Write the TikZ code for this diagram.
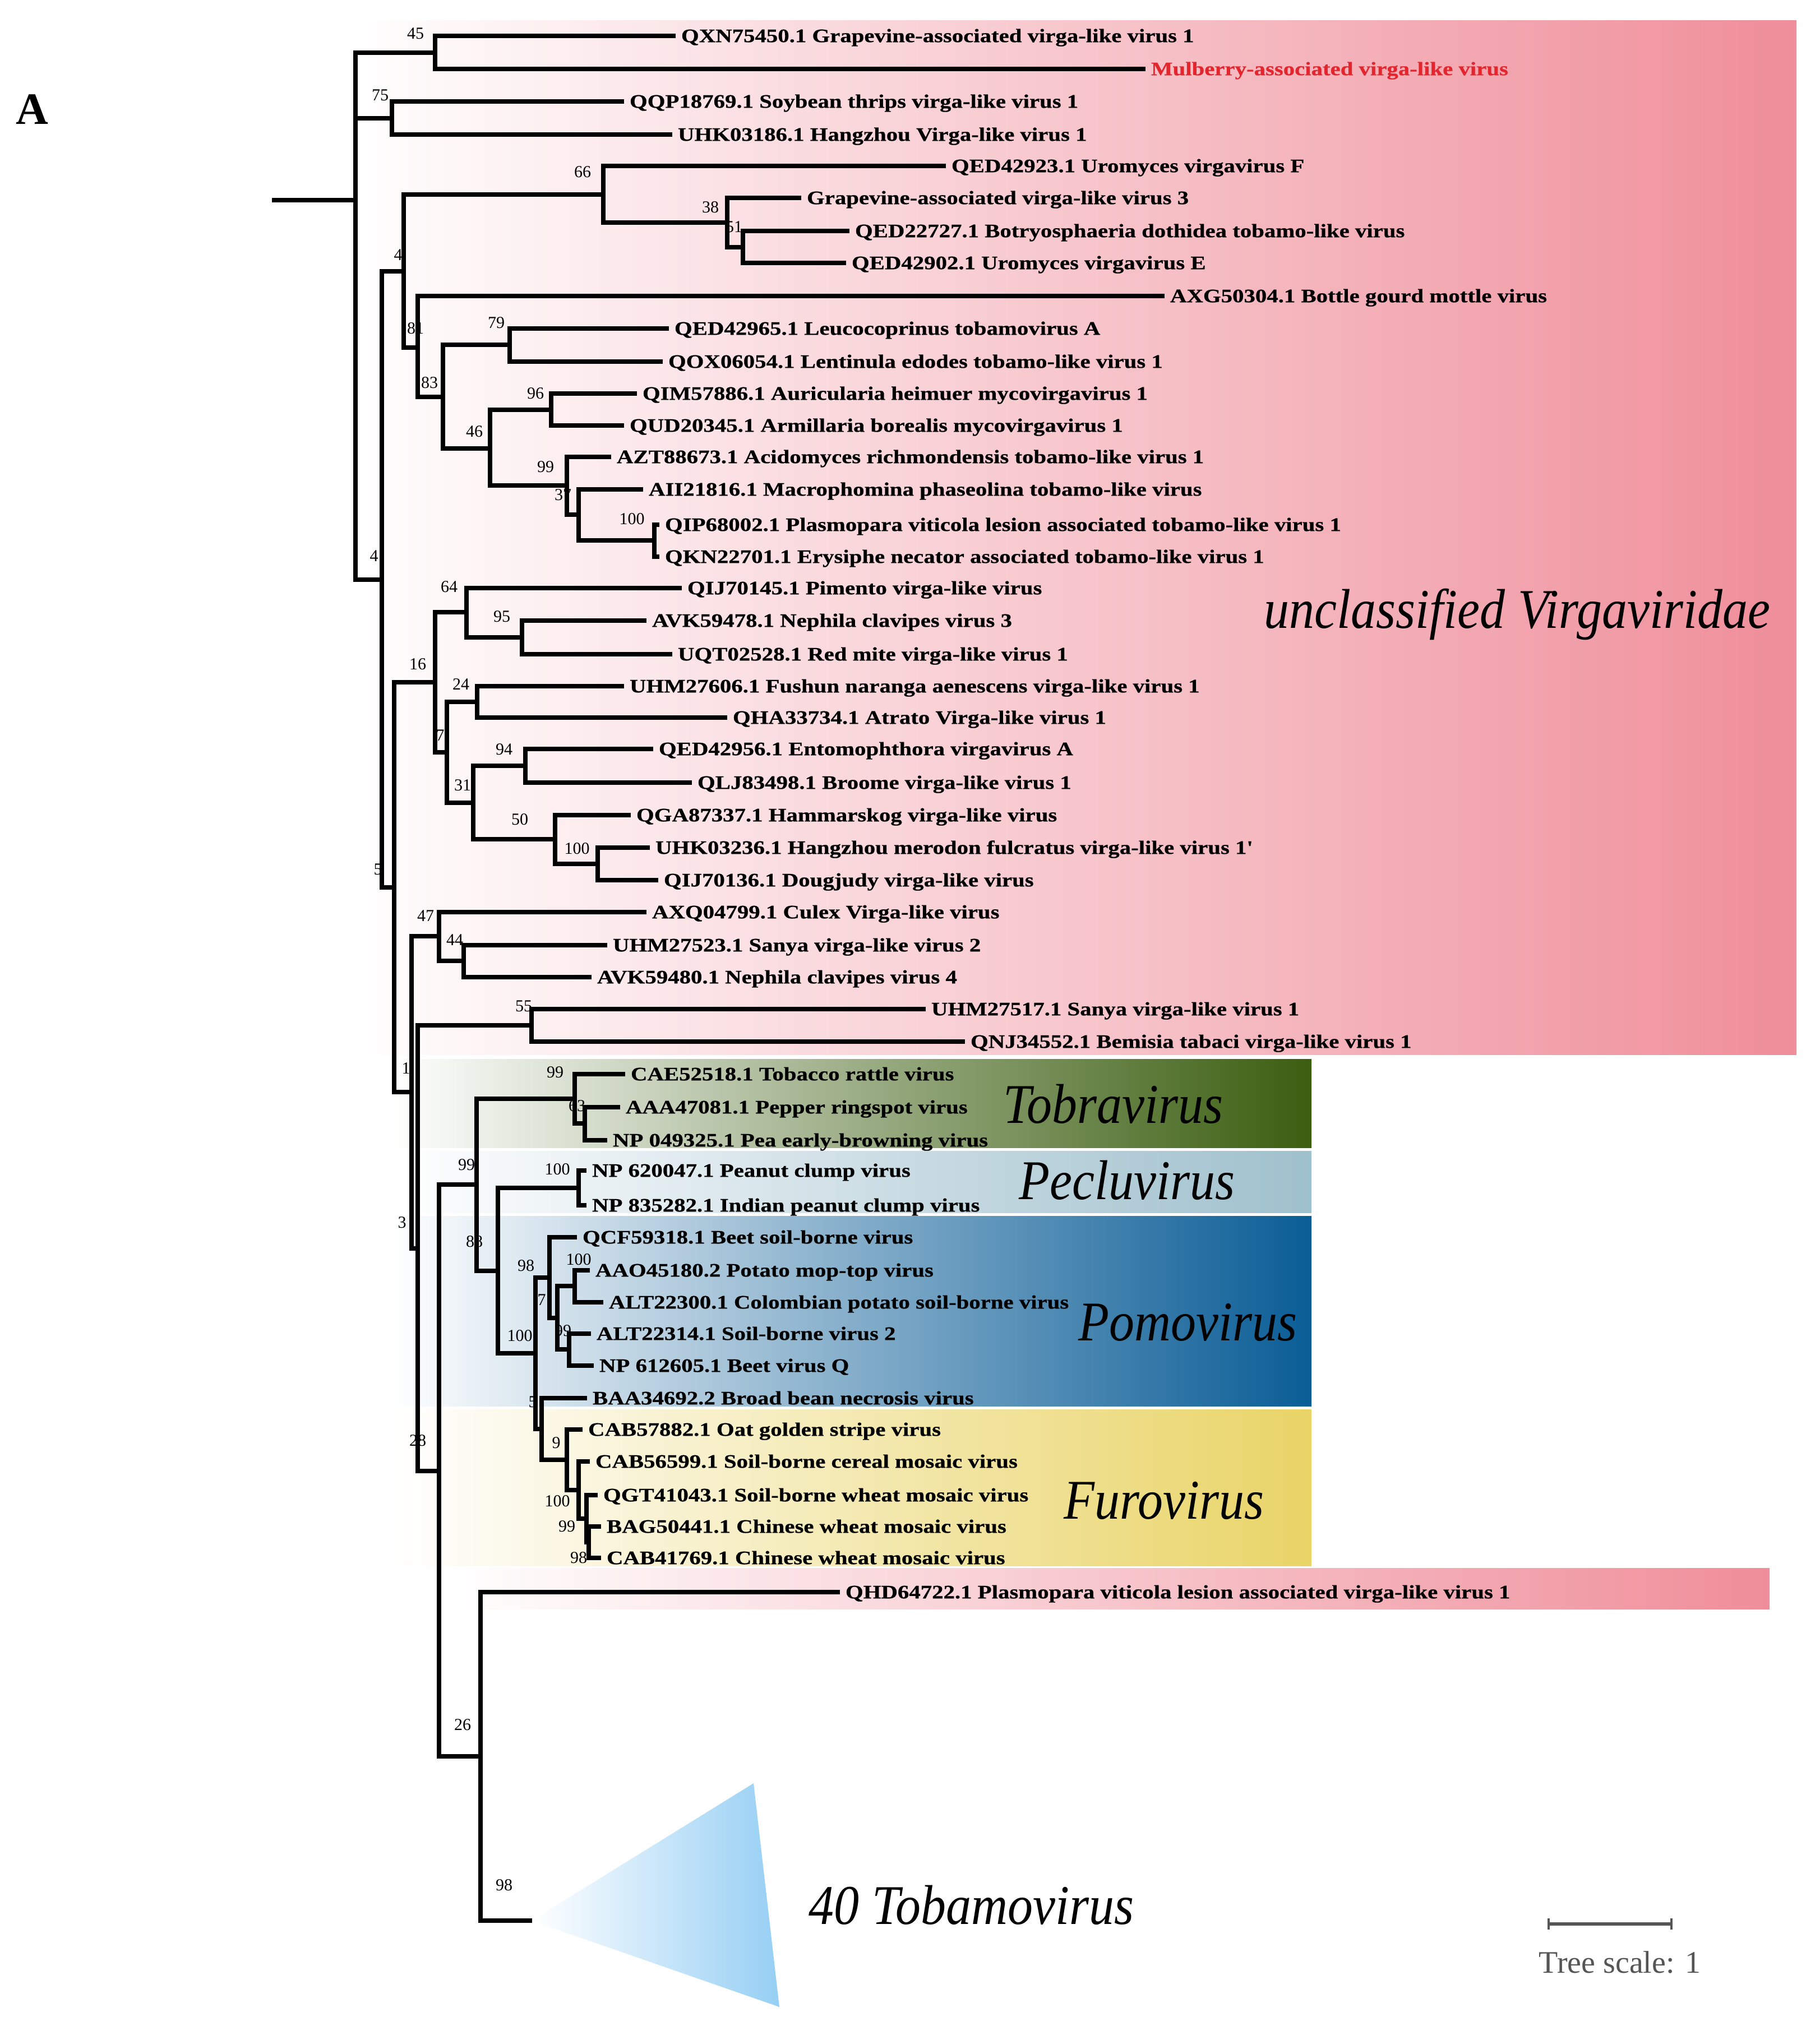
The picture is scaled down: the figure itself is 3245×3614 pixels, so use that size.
\documentclass[tikz,border=0pt]{standalone}
\usepackage{fontspec}
\setmainfont{Liberation Serif}
\newfontfamily\labfont[FakeStretch=1.2,FakeBold=0.6]{Liberation Serif}
\newfontfamily\cladefont[FakeStretch=0.9]{Liberation Serif}
\definecolor{pinkR}{HTML}{EF8E9A}
\definecolor{tobG}{HTML}{3B5E10}
\definecolor{pecB}{HTML}{9FC0CD}
\definecolor{pomB}{HTML}{0A5D96}
\definecolor{furY}{HTML}{E9D467}
\definecolor{triB}{HTML}{96CFF4}
\definecolor{mulR}{HTML}{E3262D}
\definecolor{scaleG}{HTML}{555555}
\tikzset{
  br/.style={line width=1.8pt, line cap=rect, line join=miter, black},
  leaf/.style={anchor=west, inner xsep=3.5pt, inner ysep=0pt, outer sep=0pt,
    font=\labfont\bfseries\fontsize{8.5}{10}\selectfont, text height=5.6pt, text depth=0pt},
  sv/.style={inner sep=0pt, font=\fontsize{7.5}{9}\selectfont},
  clade/.style={anchor=base west, inner sep=0pt, font=\cladefont\itshape\fontsize{25}{30}\selectfont},
}
\begin{document}
\begin{tikzpicture}[x=0.25pt,y=-0.25pt]
\useasboundingbox (0,0) rectangle (3245,3614);
% ---------- background clade shadings ----------
\shade[left color=white, right color=pinkR] (620,37) rectangle (3204,1881);
\shade[left color=white, right color=tobG] (700,1889) rectangle (2339,2047);
\shade[left color=white, right color=pecB] (700,2053) rectangle (2339,2163);
\shade[left color=white, right color=pomB] (700,2169) rectangle (2339,2508);
\shade[left color=white, right color=furY] (700,2514) rectangle (2339,2793);
\shade[left color=white, right color=pinkR] (800,2797) rectangle (3156,2870);
\shade[left color=white, right color=triB] (948,3426) -- (1344,3181) -- (1390,3580) -- cycle;
% ---------- internal nodes ----------
\coordinate (R0) at (489,357);
\coordinate (R) at (634,357);
\coordinate (N45) at (776,94);
\coordinate (N75) at (699,211);
\coordinate (C1) at (681,1034);
\coordinate (C2) at (720,484);
\coordinate (N66) at (1076,347);
\coordinate (N38) at (1297,397);
\coordinate (N51) at (1325,441);
\coordinate (N81) at (745,620);
\coordinate (N83) at (790,708);
\coordinate (N79) at (909,615);
\coordinate (N46) at (874,800);
\coordinate (N96) at (983,731);
\coordinate (N99a) at (1011,866);
\coordinate (N37) at (1032,918);
\coordinate (N100a) at (1167,964);
\coordinate (C3) at (703,1583);
\coordinate (N16) at (776,1217);
\coordinate (N64) at (832,1092);
\coordinate (N95) at (931,1137);
\coordinate (N7a) at (797,1342);
\coordinate (N24) at (851,1252);
\coordinate (N31) at (844,1432);
\coordinate (N94) at (937,1366);
\coordinate (N50) at (990,1497);
\coordinate (N100b) at (1066,1541);
\coordinate (N1) at (734,1948);
\coordinate (N47) at (783,1670);
\coordinate (N44) at (827,1714);
\coordinate (N3) at (745,2227);
\coordinate (N55) at (948,1829);
\coordinate (N28) at (783,2624);
\coordinate (N99b) at (850,2113);
\coordinate (Ntob) at (1025,1960);
\coordinate (N63) at (1043,2004);
\coordinate (N88) at (888,2267);
\coordinate (Npec) at (1032,2119);
\coordinate (N100c) at (955,2414);
\coordinate (N98a) at (980,2279);
\coordinate (N7b) at (994,2351);
\coordinate (N100d) at (1025,2294);
\coordinate (N99c) at (1015,2407);
\coordinate (N5) at (966,2549);
\coordinate (N9) at (1011,2604);
\coordinate (N100e) at (1032,2658);
\coordinate (N99d) at (1046,2709);
\coordinate (N98b) at (1050,2751);
\coordinate (N26) at (857,3133);
\coordinate (Ntri) at (945,3426);
% ---------- leaves ----------
\node[leaf] (L1) at (1201,64) {QXN75450.1 Grapevine-associated virga-like virus 1};
\node[leaf, text=mulR] (L2) at (2039,123) {Mulberry-associated virga-like virus};
\node[leaf] (L3) at (1109,181) {QQP18769.1 Soybean thrips virga-like virus 1};
\node[leaf] (L4) at (1195,240) {UHK03186.1 Hangzhou Virga-like virus 1};
\node[leaf] (L5) at (1683,296) {QED42923.1 Uromyces virgavirus F};
\node[leaf] (L6) at (1425,353) {Grapevine-associated virga-like virus 3};
\node[leaf] (L7) at (1511,412) {QED22727.1 Botryosphaeria dothidea tobamo-like virus};
\node[leaf] (L8) at (1505,469) {QED42902.1 Uromyces virgavirus E};
\node[leaf] (L9) at (2073,528) {AXG50304.1 Bottle gourd mottle virus};
\node[leaf] (L10) at (1189,586) {QED42965.1 Leucocoprinus tobamovirus A};
\node[leaf] (L11) at (1178,645) {QOX06054.1 Lentinula edodes tobamo-like virus 1};
\node[leaf] (L12) at (1132,702) {QIM57886.1 Auricularia heimuer mycovirgavirus 1};
\node[leaf] (L13) at (1109,759) {QUD20345.1 Armillaria borealis mycovirgavirus 1};
\node[leaf] (L14) at (1086,815) {AZT88673.1 Acidomyces richmondensis tobamo-like virus 1};
\node[leaf] (L15) at (1143,873) {AII21816.1 Macrophomina phaseolina tobamo-like virus};
\node[leaf] (L16) at (1172,936) {QIP68002.1 Plasmopara viticola lesion associated tobamo-like virus 1};
\node[leaf] (L17) at (1172,993) {QKN22701.1 Erysiphe necator associated tobamo-like virus 1};
\node[leaf] (L18) at (1212,1049) {QIJ70145.1 Pimento virga-like virus};
\node[leaf] (L19) at (1149,1107) {AVK59478.1 Nephila clavipes virus 3};
\node[leaf] (L20) at (1195,1167) {UQT02528.1 Red mite virga-like virus 1};
\node[leaf] (L21) at (1109,1224) {UHM27606.1 Fushun naranga aenescens virga-like virus 1};
\node[leaf] (L22) at (1293,1280) {QHA33734.1 Atrato Virga-like virus 1};
\node[leaf] (L23) at (1161,1336) {QED42956.1 Entomophthora virgavirus A};
\node[leaf] (L24) at (1230,1396) {QLJ83498.1 Broome virga-like virus 1};
\node[leaf] (L25) at (1121,1454) {QGA87337.1 Hammarskog virga-like virus};
\node[leaf] (L26) at (1155,1512) {UHK03236.1 Hangzhou merodon fulcratus virga-like virus 1'};
\node[leaf] (L27) at (1170,1570) {QIJ70136.1 Dougjudy virga-like virus};
\node[leaf] (L28) at (1149,1627) {AXQ04799.1 Culex Virga-like virus};
\node[leaf] (L29) at (1079,1686) {UHM27523.1 Sanya virga-like virus 2};
\node[leaf] (L30) at (1051,1743) {AVK59480.1 Nephila clavipes virus 4};
\node[leaf] (L31) at (1647,1800) {UHM27517.1 Sanya virga-like virus 1};
\node[leaf] (L32) at (1717,1858) {QNJ34552.1 Bemisia tabaci virga-like virus 1};
\node[leaf] (L33) at (1111,1916) {CAE52518.1 Tobacco rattle virus};
\node[leaf] (L34) at (1102,1975) {AAA47081.1 Pepper ringspot virus};
\node[leaf] (L35) at (1079,2034) {NP 049325.1 Pea early-browning virus};
\node[leaf] (L36) at (1042,2088) {NP 620047.1 Peanut clump virus};
\node[leaf] (L37) at (1042,2150) {NP 835282.1 Indian peanut clump virus};
\node[leaf] (L38) at (1025,2207) {QCF59318.1 Beet soil-borne virus};
\node[leaf] (L39) at (1048,2266) {AAO45180.2 Potato mop-top virus};
\node[leaf] (L40) at (1072,2323) {ALT22300.1 Colombian potato soil-borne virus};
\node[leaf] (L41) at (1050,2379) {ALT22314.1 Soil-borne virus 2};
\node[leaf] (L42) at (1055,2436) {NP 612605.1 Beet virus Q};
\node[leaf] (L43) at (1043,2494) {BAA34692.2 Broad bean necrosis virus};
\node[leaf] (L44) at (1035,2550) {CAB57882.1 Oat golden stripe virus};
\node[leaf] (L45) at (1048,2607) {CAB56599.1 Soil-borne cereal mosaic virus};
\node[leaf] (L46) at (1062,2667) {QGT41043.1 Soil-borne wheat mosaic virus};
\node[leaf] (L47) at (1068,2723) {BAG50441.1 Chinese wheat mosaic virus};
\node[leaf] (L48) at (1068,2779) {CAB41769.1 Chinese wheat mosaic virus};
\node[leaf] (L49) at (1494,2840) {QHD64722.1 Plasmopara viticola lesion associated virga-like virus 1};
% ---------- branches ----------
\draw[br] (R0) -- (R);
\foreach \p/\c in {R/N45,R/N75,R/C1,N45/L1,N45/L2,N75/L3,N75/L4,C1/C2,C1/C3,
  C2/N66,C2/N81,N66/L5,N66/N38,N38/L6,N38/N51,N51/L7,N51/L8,N81/L9,N81/N83,
  N83/N79,N83/N46,N79/L10,N79/L11,N46/N96,N46/N99a,N96/L12,N96/L13,N99a/L14,N99a/N37,
  N37/L15,N37/N100a,N100a/L16,N100a/L17,C3/N16,C3/N1,N16/N64,N16/N7a,N64/L18,N64/N95,
  N95/L19,N95/L20,N7a/N24,N7a/N31,N24/L21,N24/L22,N31/N94,N31/N50,N94/L23,N94/L24,
  N50/L25,N50/N100b,N100b/L26,N100b/L27,N1/N47,N1/N3,N47/L28,N47/N44,N44/L29,N44/L30,
  N3/N55,N3/N28,N55/L31,N55/L32,N28/N99b,N28/N26,N99b/Ntob,N99b/N88,Ntob/L33,Ntob/N63,
  N63/L34,N63/L35,N88/Npec,N88/N100c,Npec/L36,Npec/L37,N100c/N98a,N100c/N5,N98a/L38,N98a/N7b,
  N7b/N100d,N7b/N99c,N100d/L39,N100d/L40,N99c/L41,N99c/L42,N5/L43,N5/N9,N9/L44,N9/N100e,
  N100e/L45,N100e/N99d,N99d/L46,N99d/N98b,N98b/L47,N98b/L48,N26/L49,N26/Ntri}
  {\draw[br] (\p) |- (\c);}
% ---------- support values ----------
\node[sv] (s1) at (741,60) {45};
\node[sv] (s2) at (678,170) {75};
\node[sv] (s3) at (1039,307) {66};
\node[sv] (s4) at (1267,370) {38};
\node[sv] (s5) at (1309,405) {51};
\node[sv] (s6) at (710,455) {4};
\node[sv] (s7) at (741,586) {81};
\node[sv] (s8) at (766,683) {83};
\node[sv] (s9) at (885,576) {79};
\node[sv] (s10) at (955,702) {96};
\node[sv] (s11) at (846,770) {46};
\node[sv] (s12) at (973,833) {99};
\node[sv] (s13) at (1004,883) {37};
\node[sv] (s14) at (1127,926) {100};
\node[sv] (s15) at (667,992) {4};
\node[sv] (s16) at (801,1047) {64};
\node[sv] (s17) at (895,1100) {95};
\node[sv] (s18) at (745,1185) {16};
\node[sv] (s19) at (822,1221) {24};
\node[sv] (s20) at (785,1312) {7};
\node[sv] (s21) at (899,1337) {94};
\node[sv] (s22) at (825,1401) {31};
\node[sv] (s23) at (927,1462) {50};
\node[sv] (s24) at (1029,1514) {100};
\node[sv] (s25) at (674,1551) {5};
\node[sv] (s26) at (759,1634) {47};
\node[sv] (s27) at (811,1677) {44};
\node[sv] (s28) at (934,1795) {55};
\node[sv] (s29) at (724,1906) {1};
\node[sv] (s30) at (990,1913) {99};
\node[sv] (s31) at (1029,1973) {63};
\node[sv] (s32) at (832,2078) {99};
\node[sv] (s33) at (994,2086) {100};
\node[sv] (s34) at (717,2181) {3};
\node[sv] (s35) at (846,2215) {88};
\node[sv] (s36) at (938,2258) {98};
\node[sv] (s37) at (1032,2247) {100};
\node[sv] (s38) at (966,2319) {7};
\node[sv] (s39) at (1004,2374) {99};
\node[sv] (s40) at (927,2383) {100};
\node[sv] (s41) at (950,2501) {5};
\node[sv] (s42) at (745,2570) {28};
\node[sv] (s43) at (992,2574) {9};
\node[sv] (s44) at (994,2678) {100};
\node[sv] (s45) at (1011,2723) {99};
\node[sv] (s46) at (1032,2779) {98};
\node[sv] (s47) at (825,3077) {26};
\node[sv] (s48) at (899,3363) {98};
% ---------- clade labels ----------
\node[clade] (cU) at (2254,1120) {unclassified Virgaviridae};
\node[clade] (cT) at (1789,2003) {Tobravirus};
\node[clade] (cP) at (1817,2139) {Pecluvirus};
\node[clade] (cM) at (1923,2391) {Pomovirus};
\node[clade] (cF) at (1897,2709) {Furovirus};
\node[clade] (cB) at (1442,3432) {40 Tobamovirus};
% ---------- panel letter ----------
\node[anchor=base west, inner sep=0pt, font=\fontsize{20}{24}\selectfont\bfseries] (pA) at (28,222) {A};
% ---------- scale bar ----------
\coordinate (sb1) at (2762,3432);
\coordinate (sb2) at (2981,3432);
\draw[scaleG, line width=1.6pt] (sb1) -- (sb2);
\draw[scaleG, line width=1.2pt] ([yshift=2.5pt]sb1) -- ([yshift=-2.5pt]sb1);
\draw[scaleG, line width=1.2pt] ([yshift=2.5pt]sb2) -- ([yshift=-2.5pt]sb2);
\node[anchor=base west, inner sep=0pt, text=scaleG, font=\fontsize{14}{16}\selectfont] (ts) at (2744,3519) {Tree scale: 1};
\end{tikzpicture}
\end{document}
